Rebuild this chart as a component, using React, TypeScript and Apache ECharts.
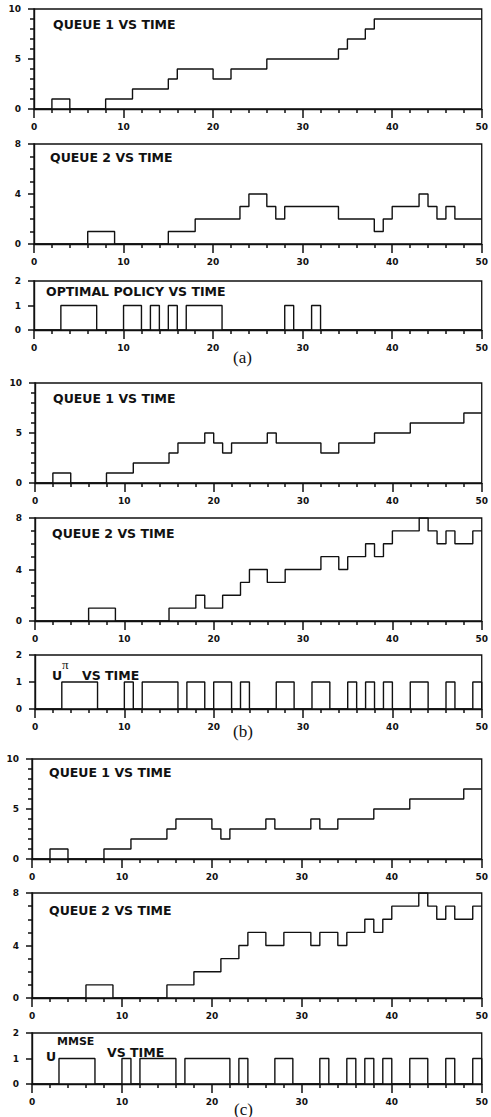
import React, { useEffect, useRef } from "react";
import * as echarts from "echarts";

// ---------- DATA ----------
// Panel (a)
const timesA_Q1 = [0, 2, 4, 8, 11, 15, 16, 20, 22, 26, 34, 35, 37, 38];
const levelsA_Q1 = [0, 1, 0, 1, 2, 3, 4, 3, 4, 5, 6, 7, 8, 9];
const timesA_Q2 = [0, 6, 9, 15, 18, 23, 24, 26, 27, 28, 34, 38, 39, 40, 43, 44, 45, 46, 47];
const levelsA_Q2 = [0, 1, 0, 1, 2, 3, 4, 3, 2, 3, 2, 1, 2, 3, 4, 3, 2, 3, 2];
const onA = [3, 10, 13, 15, 17, 28, 31];
const offA = [7, 12, 14, 16, 21, 29, 32];

// Panel (b)
const timesB_Q1 = [0, 2, 4, 8, 11, 15, 16, 19, 20, 21, 22, 26, 27, 32, 34, 38, 42, 48];
const levelsB_Q1 = [0, 1, 0, 1, 2, 3, 4, 5, 4, 3, 4, 5, 4, 3, 4, 5, 6, 7];
const timesB_Q2 = [0, 6, 9, 15, 18, 19, 21, 23, 24, 26, 28, 32, 34, 35, 37, 38, 39, 40, 43, 44, 45, 46, 47, 49];
const levelsB_Q2 = [0, 1, 0, 1, 2, 1, 2, 3, 4, 3, 4, 5, 4, 5, 6, 5, 6, 7, 8, 7, 6, 7, 6, 7];
const onB = [3, 10, 12, 17, 20, 23, 27, 31, 35, 37, 39, 42, 46, 49];
const offB = [7, 11, 16, 19, 22, 24, 29, 33, 36, 38, 40, 44, 47, 50];

// Panel (c)
const timesC_Q1 = [0, 2, 4, 8, 11, 15, 16, 20, 21, 22, 26, 27, 31, 32, 34, 38, 42, 48];
const levelsC_Q1 = [0, 1, 0, 1, 2, 3, 4, 3, 2, 3, 4, 3, 4, 3, 4, 5, 6, 7];
const timesC_Q2 = [0, 6, 9, 15, 18, 21, 23, 24, 26, 28, 31, 32, 34, 35, 37, 38, 39, 40, 43, 44, 45, 46, 47, 49];
const levelsC_Q2 = [0, 1, 0, 1, 2, 3, 4, 5, 4, 5, 4, 5, 4, 5, 6, 5, 6, 7, 8, 7, 6, 7, 6, 7];
const onC = [3, 10, 12, 17, 23, 27, 32, 35, 37, 39, 42, 46, 49];
const offC = [7, 11, 16, 22, 24, 29, 33, 36, 38, 40, 44, 47, 50];

const T_END = 50;

// ---------- helpers ----------
function queueData(times: number[], levels: number[]) {
  const d = times.map((t, i) => [t, levels[i]]);
  d.push([T_END, levels[levels.length - 1]]);
  return d;
}
function pulseData(on: number[], off: number[]) {
  const d: number[][] = [[0, 0]];
  on.forEach((s, i) => {
    d.push([s, 1]);
    d.push([off[i], 0]);
  });
  if (off[off.length - 1] < T_END) d.push([T_END, 0]);
  return d;
}

type Panel = {
  left: number; top: number; width: number; height: number;
  ymax: number; yint: number; ysplit: number; data: number[][];
};

const FONT = "DejaVu Sans";
const BLACK = "#111";

const panels: Panel[] = [
  { left: 34, top: 9, width: 449, height: 100, ymax: 10, yint: 5, ysplit: 5, data: queueData(timesA_Q1, levelsA_Q1) },
  { left: 34, top: 144, width: 449, height: 100, ymax: 8, yint: 4, ysplit: 4, data: queueData(timesA_Q2, levelsA_Q2) },
  { left: 34, top: 281, width: 449, height: 49, ymax: 2, yint: 1, ysplit: 0, data: pulseData(onA, offA) },
  { left: 35, top: 383, width: 449, height: 100, ymax: 10, yint: 5, ysplit: 5, data: queueData(timesB_Q1, levelsB_Q1) },
  { left: 35, top: 518, width: 449, height: 103, ymax: 8, yint: 4, ysplit: 4, data: queueData(timesB_Q2, levelsB_Q2) },
  { left: 35, top: 655, width: 449, height: 54, ymax: 2, yint: 1, ysplit: 0, data: pulseData(onB, offB) },
  { left: 32, top: 759, width: 451, height: 100, ymax: 10, yint: 5, ysplit: 5, data: queueData(timesC_Q1, levelsC_Q1) },
  { left: 32, top: 893, width: 451, height: 105, ymax: 8, yint: 4, ysplit: 4, data: queueData(timesC_Q2, levelsC_Q2) },
  { left: 32, top: 1033, width: 451, height: 51, ymax: 2, yint: 1, ysplit: 0, data: pulseData(onC, offC) },
];

const titleStyle = (text: string, x: number, y: number, size = 12.5, family = FONT, weight: any = "bold") => ({
  type: "text",
  x,
  y,
  silent: true,
  style: {
    text,
    fill: BLACK,
    fontSize: size,
    fontWeight: weight,
    fontFamily: family,
    verticalAlign: "middle",
    textVerticalAlign: "middle",
    align: "left",
  },
});

function axisParts(minorSplit: number, tickLen: number) {
  return {
    axisLine: { show: true, onZero: false, lineStyle: { color: BLACK, width: 1.4 } },
    axisTick: { show: true, inside: false, length: tickLen, lineStyle: { color: BLACK, width: 1.5 } },
    minorTick: { show: minorSplit > 0, splitNumber: minorSplit || 1, length: 4, lineStyle: { color: BLACK, width: 1.5 } },
    axisLabel: { color: BLACK, fontSize: 9, fontWeight: "bold", fontFamily: FONT, margin: 13 },
    splitLine: { show: false },
    minorSplitLine: { show: false },
  };
}

export default function App() {
  const ref = useRef<HTMLDivElement>(null);
  useEffect(() => {
    if (!ref.current) return;
    const chart = echarts.init(ref.current, null, { renderer: "svg" });
    const option: any = {
      animation: false,
      backgroundColor: "#fff",
      grid: panels.map((p) => ({
        left: p.left, top: p.top, width: p.width, height: p.height,
        show: true, borderColor: BLACK, borderWidth: 1.3,
      })),
      xAxis: panels.map((p, i) => ({
        gridIndex: i, type: "value", min: 0, max: T_END, interval: 10,
        ...axisParts(5, 9),
      })),
      yAxis: panels.map((p, i) => ({
        gridIndex: i, type: "value", min: 0, max: p.ymax, interval: p.yint,
        ...axisParts(p.ysplit, 6),
      })),
      series: panels.map((p, i) => ({
        type: "line", xAxisIndex: i, yAxisIndex: i, data: p.data, step: "end",
        symbol: "none", silent: true, lineStyle: { color: BLACK, width: 1.4 },
      })),
      graphic: [
        titleStyle("QUEUE 1 VS TIME", 53, 24),
        titleStyle("QUEUE 2 VS TIME", 50, 157),
        titleStyle("OPTIMAL POLICY VS TIME", 46, 291),
        titleStyle("(a)", 233, 357, 17, "Liberation Serif", "normal"),
        titleStyle("QUEUE 1 VS TIME", 53, 398),
        titleStyle("QUEUE 2 VS TIME", 52, 533),
        titleStyle("U", 52, 675),
        titleStyle("π", 62, 664, 13, "Liberation Serif", "normal"),
        titleStyle("VS TIME", 82, 675),
        titleStyle("(b)", 233, 731, 17, "Liberation Serif", "normal"),
        titleStyle("QUEUE 1 VS TIME", 49, 772),
        titleStyle("QUEUE 2 VS TIME", 49, 910),
        titleStyle("U", 46, 1056),
        titleStyle("MMSE", 57, 1041, 11),
        titleStyle("VS TIME", 107, 1052),
        titleStyle("(c)", 234, 1109, 17, "Liberation Serif", "normal"),
      ],
    };
    chart.setOption(option);
    return () => chart.dispose();
  }, []);
  return (
    <div
      ref={ref}
      style={{ position: "absolute", left: 0, top: 0, width: 491, height: 1117, background: "#fff" }}
    />
  );
}
